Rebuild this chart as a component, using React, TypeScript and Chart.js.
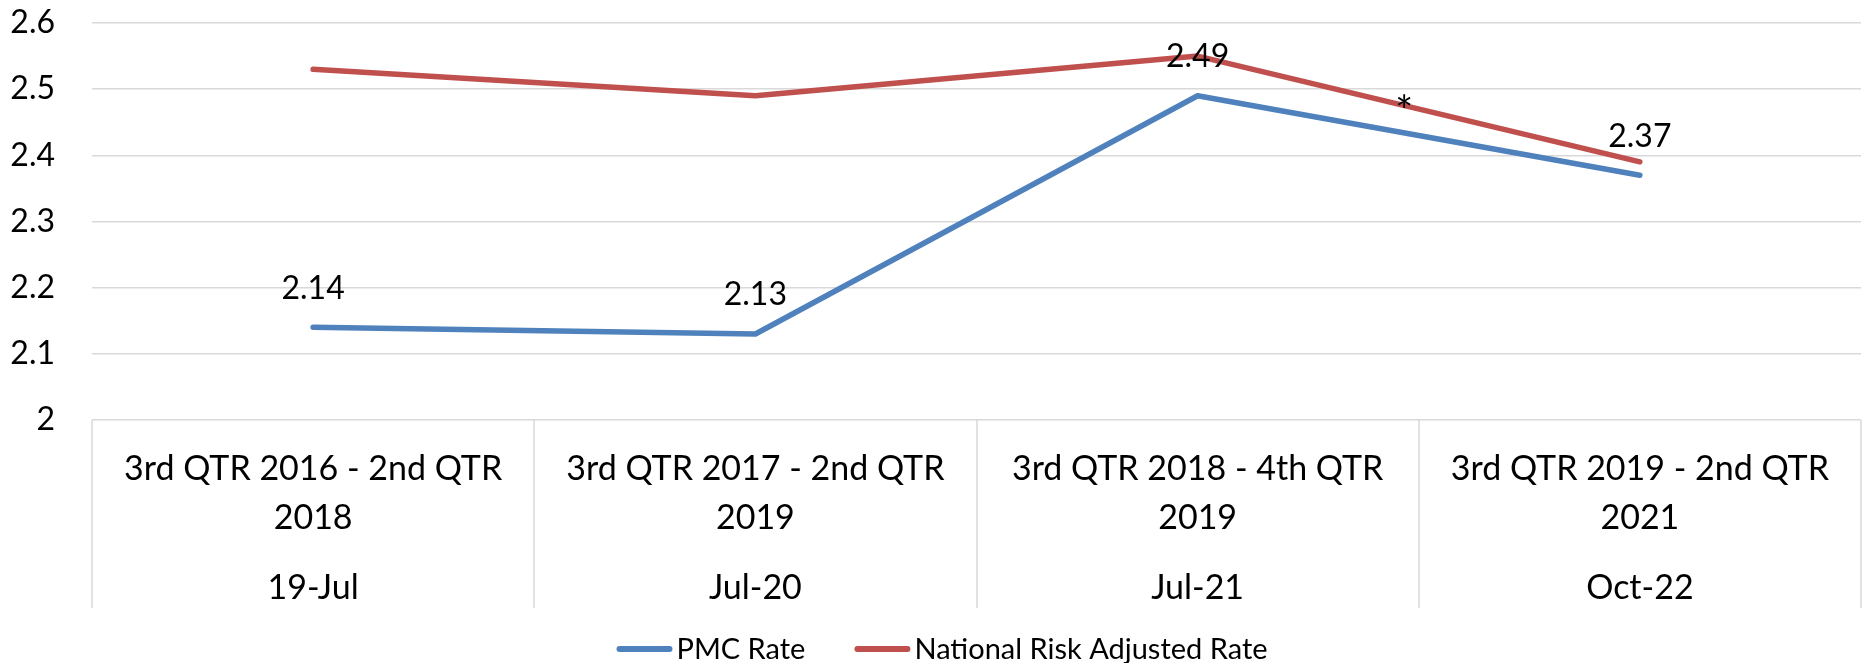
import React, { useEffect, useRef } from 'react';
import { Chart, registerables } from 'chart.js';

Chart.register(...registerables);

// ---- data ----
const periodLabels: string[][] = [
  ['3rd QTR 2016 - 2nd QTR', '2018'],
  ['3rd QTR 2017 - 2nd QTR', '2019'],
  ['3rd QTR 2018 - 4th QTR', '2019'],
  ['3rd QTR 2019 - 2nd QTR', '2021'],
];
const reportDates = ['19-Jul', 'Jul-20', 'Jul-21', 'Oct-22'];
const pmcRate = [2.14, 2.13, 2.49, 2.37];
const nationalRate = [2.53, 2.49, 2.55, 2.39];
const seriesNames = ['PMC Rate', 'National Risk Adjusted Rate'];
const yMin = 2;
const yMax = 2.6;
const yStep = 0.1;
const noteMarks = [{ index: 2.467, value: 2.481, text: '*' }];

// ---- styles ----
const FONT = 'Lato, "Open Sans", sans-serif';
const COLORS = ['#4F81BD', '#C0504D'];
const GRID = '#d9d9d9';

const overlay = {
  id: 'overlay',
  afterDatasetsDraw(chart: any) {
    const ctx = chart.ctx as CanvasRenderingContext2D;
    const x = chart.scales.x;
    const y = chart.scales.y;
    ctx.save();
    ctx.fillStyle = '#000';
    ctx.textAlign = 'center';
    ctx.textBaseline = 'alphabetic';
    const s = 32;
    const cap = s * 0.717;
    ctx.font = `${s}px ${FONT}`;
    chart.getDatasetMeta(0).data.forEach((pt: any, i: number) => {
      ctx.fillText(pmcRate[i].toFixed(2), pt.x, pt.y - 40 + cap / 2);
    });
    ctx.font = `42px ${FONT}`;
    noteMarks.forEach((n) => {
      ctx.fillText(n.text, x.getPixelForValue(n.index), y.getPixelForValue(n.value) + 24);
    });
    ctx.restore();
  },
  afterDraw(chart: any) {
    const ctx = chart.ctx as CanvasRenderingContext2D;
    const area = chart.chartArea;
    const x = chart.scales.x;
    ctx.save();
    // category dividers below the axis
    ctx.strokeStyle = GRID;
    ctx.lineWidth = 1.5;
    for (let i = 0; i <= reportDates.length; i++) {
      const px = Math.round(x.getPixelForValue(i - 0.5));
      ctx.beginPath();
      ctx.moveTo(px, area.bottom);
      ctx.lineTo(px, area.bottom + 188);
      ctx.stroke();
    }
    // category labels
    ctx.fillStyle = '#000';
    ctx.textAlign = 'center';
    ctx.textBaseline = 'alphabetic';
    const cs = 34;
    const ccap = cs * 0.717;
    ctx.font = `${cs}px ${FONT}`;
    periodLabels.forEach((lines, i) => {
      const cx = x.getPixelForValue(i);
      lines.forEach((t, j) => {
        ctx.fillText(t, cx, area.bottom + 48 + j * 49 + ccap / 2);
      });
      ctx.fillText(reportDates[i], cx, area.bottom + 167 + ccap / 2);
    });
    // legend
    const ls = 29;
    const lcap = ls * 0.717;
    ctx.font = `${ls}px ${FONT}`;
    ctx.textAlign = 'left';
    const lineLen = 56;
    const gapText = 4;
    const gapItem = 49;
    const widths = seriesNames.map((n) => ctx.measureText(n).width);
    const total =
      widths.reduce((a, w) => a + lineLen + gapText + w, 0) + gapItem * (seriesNames.length - 1);
    let lx = chart.width / 2 + 10 - total / 2;
    const ly = area.bottom + 229;
    seriesNames.forEach((name, i) => {
      ctx.strokeStyle = COLORS[i];
      ctx.lineWidth = 6;
      ctx.lineCap = 'round';
      ctx.beginPath();
      ctx.moveTo(lx + 3, ly);
      ctx.lineTo(lx + lineLen - 3, ly);
      ctx.stroke();
      ctx.fillStyle = '#000';
      ctx.fillText(name, lx + lineLen + gapText, ly + lcap / 2);
      lx += lineLen + gapText + widths[i] + gapItem;
    });
    ctx.restore();
  },
};

export default function App() {
  const ref = useRef<HTMLCanvasElement>(null);
  useEffect(() => {
    const chart = new Chart(ref.current as HTMLCanvasElement, {
      type: 'line',
      data: {
        labels: periodLabels.map((l) => l.join(' ')),
        datasets: [
          {
            label: seriesNames[0],
            data: pmcRate,
            borderColor: COLORS[0],
            backgroundColor: COLORS[0],
            borderWidth: 5.5,
            borderCapStyle: 'round',
            borderJoinStyle: 'round',
            pointRadius: 0,
            tension: 0,
            order: 2,
          },
          {
            label: seriesNames[1],
            data: nationalRate,
            borderColor: COLORS[1],
            backgroundColor: COLORS[1],
            borderWidth: 5.5,
            borderCapStyle: 'round',
            borderJoinStyle: 'round',
            pointRadius: 0,
            tension: 0,
            order: 1,
          },
        ],
      },
      options: {
        animation: false,
        responsive: true,
        maintainAspectRatio: false,
        layout: { padding: { left: 0, right: 3, top: 23, bottom: 243 } },
        plugins: { legend: { display: false }, tooltip: { enabled: false } },
        scales: {
          x: {
            type: 'category',
            offset: true,
            display: false,
          },
          y: {
            min: yMin,
            max: yMax,
            afterFit: (scale: any) => {
              scale.width = 92;
              scale.paddingTop = 0;
              scale.paddingBottom = 0;
            },
            ticks: {
              stepSize: yStep,
              padding: 37,
              color: '#000',
              font: { family: FONT, size: 32 },
              callback: (v: any) => Number(v).toFixed(1).replace(/\.0$/, ''),
            },
            grid: { color: GRID, lineWidth: 1.5, drawTicks: false },
            border: { display: false },
          },
        },
      },
      plugins: [overlay],
    });
    return () => chart.destroy();
  }, []);
  return (
    <div style={{ position: 'absolute', left: 0, top: 0, width: 1864, height: 663, background: '#fff' }}>
      <canvas ref={ref} />
    </div>
  );
}
